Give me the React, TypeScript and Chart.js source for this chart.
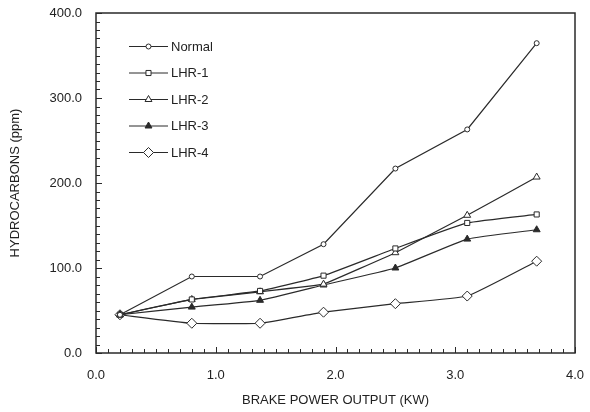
import React, { useEffect, useRef } from "react";
import { Chart, registerables } from "chart.js";

Chart.register(...registerables);

const brakePower = [0.2, 0.8, 1.37, 1.9, 2.5, 3.1, 3.68];
const seriesNames = ["Normal", "LHR-1", "LHR-2", "LHR-3", "LHR-4"];
const normal = [45, 90, 90, 128, 217, 263, 364.5];
const lhr1 = [45, 63, 73, 91, 123, 153, 163];
const lhr2 = [45, 63, 72, 81, 118, 162, 207];
const lhr3 = [45, 54, 62, 80, 100, 134, 145];
const lhr4 = [45, 35, 35, 48, 58, 67, 108];
const yTicks = [0, 100, 200, 300, 400];
const xTicks = [0, 1, 2, 3, 4];

const INK = "#2a2a2a";
const FONT = "'Liberation Sans', Arial, sans-serif";

const styles = [
  { pointStyle: "circle", radius: 2.5, fill: "#ffffff", tension: 0 },
  { pointStyle: "rect", radius: 3.6, fill: "#ffffff", tension: 0.12 },
  { pointStyle: "triangle", radius: 4, fill: "#ffffff", tension: 0.05 },
  { pointStyle: "triangle", radius: 4, fill: INK, tension: 0.12 },
  { pointStyle: "rectRot", radius: 5, fill: "#ffffff", tension: 0.12 },
];

function drawMarker(ctx: CanvasRenderingContext2D, style: string, r: number, x: number, y: number) {
  ctx.beginPath();
  if (style === "circle") {
    ctx.arc(x, y, r, 0, Math.PI * 2);
  } else if (style === "rect") {
    const s = Math.SQRT1_2 * r;
    ctx.rect(x - s, y - s, 2 * s, 2 * s);
  } else if (style === "triangle") {
    const a = -Math.PI / 2;
    ctx.moveTo(x + Math.cos(a) * r, y + Math.sin(a) * r);
    ctx.lineTo(x + Math.cos(a + (2 * Math.PI) / 3) * r, y + Math.sin(a + (2 * Math.PI) / 3) * r);
    ctx.lineTo(x + Math.cos(a + (4 * Math.PI) / 3) * r, y + Math.sin(a + (4 * Math.PI) / 3) * r);
    ctx.closePath();
  } else {
    ctx.moveTo(x, y - r);
    ctx.lineTo(x + r, y);
    ctx.lineTo(x, y + r);
    ctx.lineTo(x - r, y);
    ctx.closePath();
  }
  ctx.fill();
  ctx.stroke();
}

const frameTicks = {
  id: "frameTicks",
  afterDatasetsDraw(chart: any) {
    const { ctx, chartArea } = chart;
    const xs = chart.scales.x;
    const ys = chart.scales.y;
    ctx.save();
    ctx.strokeStyle = INK;
    ctx.lineWidth = 1;
    ctx.beginPath();
    for (let v = 0; v <= 400; v += 10) {
      const py = Math.round(ys.getPixelForValue(v)) + 0.5;
      const len = v % 100 === 0 ? 6 : 4;
      ctx.moveTo(chartArea.left, py);
      ctx.lineTo(chartArea.left + len, py);
    }
    for (let i = 0; i <= 40; i++) {
      const v = i / 10;
      const px = Math.round(xs.getPixelForValue(v)) + 0.5;
      const len = i % 10 === 0 ? 6 : 4;
      ctx.moveTo(px, chartArea.bottom);
      ctx.lineTo(px, chartArea.bottom - len);
    }
    ctx.stroke();
    ctx.lineWidth = 1.5;
    ctx.strokeRect(
      chartArea.left,
      chartArea.top,
      chartArea.right - chartArea.left,
      chartArea.bottom - chartArea.top
    );
    const lx0 = chartArea.left + 33;
    const lx1 = chartArea.left + 72;
    ctx.font = "13px " + FONT;
    ctx.textBaseline = "middle";
    ctx.textAlign = "left";
    chart.data.datasets.forEach((ds: any, i: number) => {
      const y = chartArea.top + 33 + i * 26.5;
      ctx.lineWidth = 1;
      ctx.strokeStyle = INK;
      ctx.beginPath();
      ctx.moveTo(lx0, y + 0.5);
      ctx.lineTo(lx1, y + 0.5);
      ctx.stroke();
      ctx.fillStyle = ds.pointBackgroundColor;
      drawMarker(ctx, ds.pointStyle, ds.pointRadius, (lx0 + lx1) / 2, y + 0.5);
      ctx.fillStyle = "#222";
      ctx.fillText(ds.label, lx1 + 3, y + 1);
    });
    ctx.restore();
  },
};

export default function App() {
  const ref = useRef<HTMLCanvasElement>(null);
  useEffect(() => {
    if (!ref.current) return;
    const allSeries = [normal, lhr1, lhr2, lhr3, lhr4];
    const chart = new Chart(ref.current, {
      type: "line",
      data: {
        datasets: allSeries.map((vals, i) => ({
          label: seriesNames[i],
          data: brakePower.map((x, j) => ({ x, y: vals[j] })),
          borderColor: INK,
          borderWidth: 1.2,
          pointStyle: styles[i].pointStyle as any,
          pointRadius: styles[i].radius,
          pointBackgroundColor: styles[i].fill,
          pointBorderColor: INK,
          pointBorderWidth: 1,
          tension: styles[i].tension,
          fill: false,
        })),
      },
      options: {
        animation: false,
        responsive: false,
        maintainAspectRatio: false,
        layout: { padding: { top: 13, right: 15, left: 0, bottom: 0 } },
        plugins: { legend: { display: false }, tooltip: { enabled: false } },
        scales: {
          x: {
            type: "linear",
            min: 0,
            max: 4,
            afterBuildTicks: (s: any) => {
              s.ticks = xTicks.map((v) => ({ value: v }));
            },
            afterFit: (s: any) => {
              s.height = 59;
              s.paddingLeft = 0;
              s.paddingRight = 0;
            },
            grid: { display: false, drawTicks: false },
            border: { display: false },
            ticks: {
              padding: 15,
              color: "#222",
              font: { family: FONT, size: 13 },
              callback: (v: any) => Number(v).toFixed(1),
            },
            title: {
              display: true,
              text: "BRAKE POWER OUTPUT (KW)",
              color: "#222",
              font: { family: FONT, size: 13 },
              padding: { top: 4, bottom: 4 },
            },
          },
          y: {
            type: "linear",
            min: 0,
            max: 400,
            afterBuildTicks: (s: any) => {
              s.ticks = yTicks.map((v) => ({ value: v }));
            },
            afterFit: (s: any) => {
              s.width = 96;
              s.paddingTop = 0;
              s.paddingBottom = 0;
            },
            grid: { display: false, drawTicks: false },
            border: { display: false },
            ticks: {
              padding: 14,
              color: "#222",
              font: { family: FONT, size: 13 },
              callback: (v: any) => Number(v).toFixed(1),
            },
            title: {
              display: true,
              text: "HYDROCARBONS (ppm)",
              color: "#222",
              font: { family: FONT, size: 13 },
              padding: { top: 8, bottom: 4 },
            },
          },
        },
      },
      plugins: [frameTicks],
    });
    return () => chart.destroy();
  }, []);
  return (
    <div style={{ position: "fixed", left: 0, top: 0, width: 590, height: 412, background: "#fff" }}>
      <canvas ref={ref} width={590} height={412} style={{ width: 590, height: 412 }} />
    </div>
  );
}
